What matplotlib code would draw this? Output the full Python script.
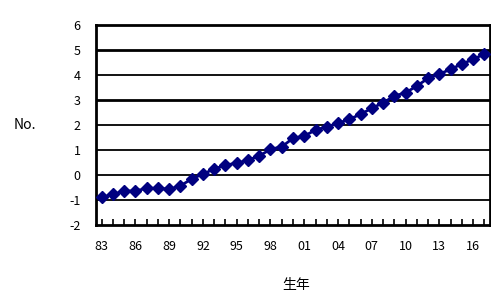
import matplotlib
matplotlib.use("Agg")
import matplotlib.pyplot as plt
import numpy as np

plt.rcParams['font.family'] = ['Noto Sans CJK JP', 'DejaVu Sans']

years = list(range(1983, 2018))
values = [-0.89, -0.77, -0.64, -0.64, -0.53, -0.53, -0.57, -0.43, -0.16, 0.04,
          0.24, 0.40, 0.47, 0.60, 0.76, 1.03, 1.13, 1.47, 1.56, 1.80,
          1.93, 2.07, 2.23, 2.43, 2.67, 2.89, 3.16, 3.29, 3.56, 3.87,
          4.04, 4.23, 4.44, 4.63, 4.84]
tick_labels = [f"{y % 100:02d}" for y in years]
y_ticks = [-2, -1, 0, 1, 2, 3, 4, 5, 6]
x_label = "生年"
y_label = "No."

fig = plt.figure(figsize=(4.91, 3.02), dpi=100)
ax = fig.add_axes([96/491, 1 - 225/302, (490 - 96)/491, 200/302])

x = np.arange(len(years))
ax.plot(x, values, color='#000080', lw=2.0, marker='D', markersize=6.5,
        markeredgecolor='#000080', zorder=3, clip_on=False)

ax.set_xlim(-0.5, len(years) - 0.5)
ax.set_ylim(-2, 6)
ax.set_yticks(y_ticks)
ax.set_yticklabels([str(v) for v in y_ticks], fontsize=9)
ax.tick_params(axis='y', length=0, pad=11)
for v in y_ticks[1:-1]:
    ax.axhline(v, color='black', lw=1.3 if v not in (3, 5) else 2.0, zorder=1)

ax.set_xticks(x[::3])
ax.set_xticklabels(tick_labels[::3], fontsize=9)
ax.set_xticks(x, minor=True)
ax.tick_params(axis='x', which='both', direction='in', length=4, width=1.2, pad=11)

for s in ax.spines.values():
    s.set_linewidth(2)
    s.set_color('black')

fig.text(296/491, 1 - 285/302, x_label, ha='center', va='center', fontsize=10)
fig.text(25/491, 1 - 125/302, y_label, ha='center', va='center', fontsize=10)

fig.savefig("out.png", dpi=100)
